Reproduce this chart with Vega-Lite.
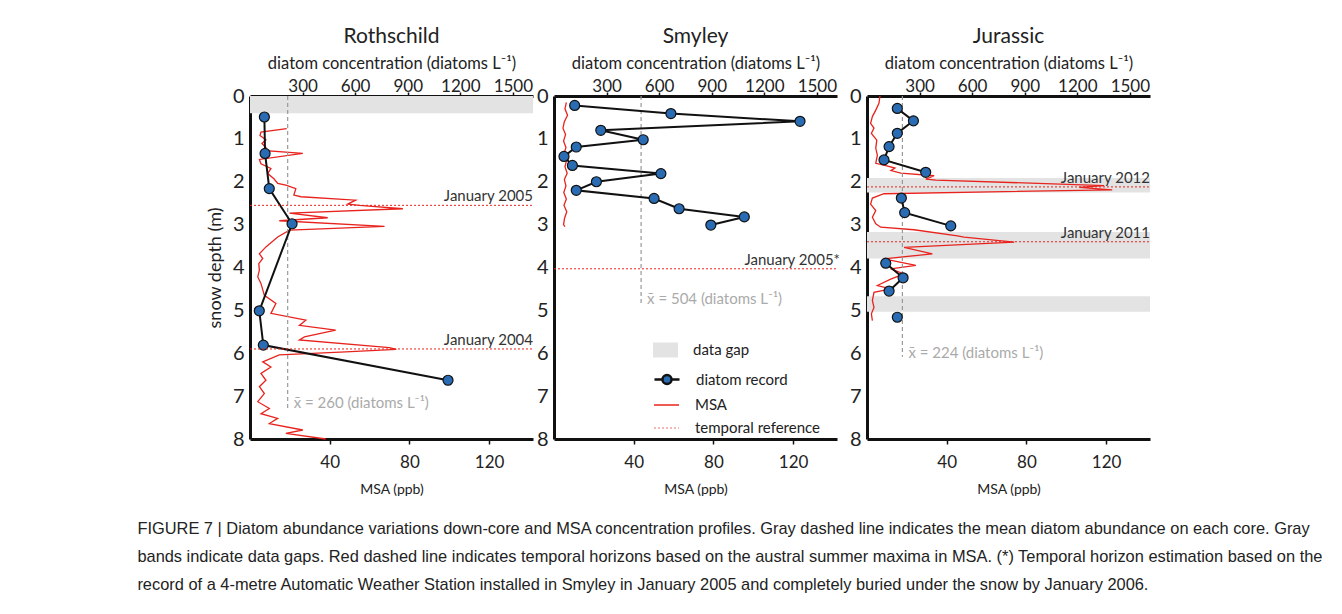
{
  "$schema": "https://vega.github.io/schema/vega-lite/v6.json",
  "padding": {"left": 137, "top": 26, "right": 0, "bottom": 0},
  "background": "white",
  "title": {
    "text": ["FIGURE 7 | Diatom abundance variations down-core and MSA concentration profiles. Gray dashed line indicates the mean diatom abundance on each core. Gray", "bands indicate data gaps. Red dashed line indicates temporal horizons based on the austral summer maxima in MSA. (*) Temporal horizon estimation based on the", "record of a 4-metre Automatic Weather Station installed in Smyley in January 2005 and completely buried under the snow by January 2006."],
    "orient": "bottom", "anchor": "start", "frame": "bounds", "dx": -69, "offset": 25,
    "font": "Liberation Sans", "fontSize": 16.4, "fontWeight": "normal", "color": "#222", "lineHeight": 28
  },
  "config": {
    "font": "Lato",
    "view": {"stroke": null},
    "axis": {"domainColor": "#111", "domainWidth": 3, "tickColor": "#111", "tickWidth": 1.5, "tickSize": 5, "labelFont": "Lato", "labelColor": "#222", "titleFont": "Lato", "titleFontWeight": "normal", "titleColor": "#222", "grid": false},
    "legend": {"labelFont": "Lato", "labelFontSize": 15, "labelColor": "#222", "padding": 0, "labelOffset": 15}
  },
  "resolve": {"scale": {"fill": "independent", "strokeDash": "independent", "stroke": "independent"}},
  "datasets": {
    "diatom": [
      {"core": "Rothschild", "seg": "a", "depth": 0.49, "conc": 82},
      {"core": "Rothschild", "seg": "a", "depth": 1.34, "conc": 86},
      {"core": "Rothschild", "seg": "a", "depth": 2.16, "conc": 110},
      {"core": "Rothschild", "seg": "a", "depth": 2.98, "conc": 240},
      {"core": "Rothschild", "seg": "a", "depth": 5.01, "conc": 53},
      {"core": "Rothschild", "seg": "a", "depth": 5.81, "conc": 76},
      {"core": "Rothschild", "seg": "a", "depth": 6.63, "conc": 1130},
      {"core": "Smyley", "seg": "a", "depth": 0.22, "conc": 118},
      {"core": "Smyley", "seg": "a", "depth": 0.41, "conc": 667},
      {"core": "Smyley", "seg": "a", "depth": 0.59, "conc": 1404},
      {"core": "Smyley", "seg": "a", "depth": 0.8, "conc": 267},
      {"core": "Smyley", "seg": "a", "depth": 1.02, "conc": 509},
      {"core": "Smyley", "seg": "a", "depth": 1.19, "conc": 127},
      {"core": "Smyley", "seg": "a", "depth": 1.41, "conc": 57},
      {"core": "Smyley", "seg": "a", "depth": 1.62, "conc": 105},
      {"core": "Smyley", "seg": "a", "depth": 1.81, "conc": 610},
      {"core": "Smyley", "seg": "a", "depth": 2.0, "conc": 242},
      {"core": "Smyley", "seg": "a", "depth": 2.2, "conc": 127},
      {"core": "Smyley", "seg": "a", "depth": 2.39, "conc": 571},
      {"core": "Smyley", "seg": "a", "depth": 2.63, "conc": 714},
      {"core": "Smyley", "seg": "a", "depth": 2.82, "conc": 1086},
      {"core": "Smyley", "seg": "a", "depth": 3.01, "conc": 895},
      {"core": "Jurassic", "seg": "a", "depth": 0.29, "conc": 173},
      {"core": "Jurassic", "seg": "a", "depth": 0.58, "conc": 265},
      {"core": "Jurassic", "seg": "a", "depth": 0.87, "conc": 173},
      {"core": "Jurassic", "seg": "a", "depth": 1.18, "conc": 126},
      {"core": "Jurassic", "seg": "a", "depth": 1.49, "conc": 97},
      {"core": "Jurassic", "seg": "a", "depth": 1.78, "conc": 335},
      {"core": "Jurassic", "seg": "b", "depth": 2.38, "conc": 196},
      {"core": "Jurassic", "seg": "b", "depth": 2.72, "conc": 215},
      {"core": "Jurassic", "seg": "b", "depth": 3.03, "conc": 478},
      {"core": "Jurassic", "seg": "c", "depth": 3.9, "conc": 107},
      {"core": "Jurassic", "seg": "c", "depth": 4.24, "conc": 206},
      {"core": "Jurassic", "seg": "c", "depth": 4.55, "conc": 126},
      {"core": "Jurassic", "seg": "d", "depth": 5.16, "conc": 173}
    ],
    "msa": [
      {"core": "Rothschild", "depth": 0.76, "msa": 18.4},
      {"core": "Rothschild", "depth": 0.84, "msa": 5.5},
      {"core": "Rothschild", "depth": 0.92, "msa": 5.0},
      {"core": "Rothschild", "depth": 1.02, "msa": 8},
      {"core": "Rothschild", "depth": 1.11, "msa": 6},
      {"core": "Rothschild", "depth": 1.2, "msa": 8},
      {"core": "Rothschild", "depth": 1.27, "msa": 6.4},
      {"core": "Rothschild", "depth": 1.34, "msa": 26.5},
      {"core": "Rothschild", "depth": 1.48, "msa": 4.7},
      {"core": "Rothschild", "depth": 1.58, "msa": 5.5},
      {"core": "Rothschild", "depth": 1.69, "msa": 10.5},
      {"core": "Rothschild", "depth": 1.81, "msa": 8.9},
      {"core": "Rothschild", "depth": 1.93, "msa": 12},
      {"core": "Rothschild", "depth": 2.04, "msa": 13.9},
      {"core": "Rothschild", "depth": 2.08, "msa": 18},
      {"core": "Rothschild", "depth": 2.16, "msa": 23},
      {"core": "Rothschild", "depth": 2.31, "msa": 22},
      {"core": "Rothschild", "depth": 2.35, "msa": 25.6},
      {"core": "Rothschild", "depth": 2.43, "msa": 53},
      {"core": "Rothschild", "depth": 2.52, "msa": 49},
      {"core": "Rothschild", "depth": 2.55, "msa": 55},
      {"core": "Rothschild", "depth": 2.63, "msa": 76.7},
      {"core": "Rothschild", "depth": 2.73, "msa": 19.8},
      {"core": "Rothschild", "depth": 2.84, "msa": 39},
      {"core": "Rothschild", "depth": 2.91, "msa": 14.7},
      {"core": "Rothschild", "depth": 3.04, "msa": 67.5},
      {"core": "Rothschild", "depth": 3.13, "msa": 19.8},
      {"core": "Rothschild", "depth": 3.29, "msa": 13.9},
      {"core": "Rothschild", "depth": 3.52, "msa": 8},
      {"core": "Rothschild", "depth": 3.68, "msa": 4.7},
      {"core": "Rothschild", "depth": 3.79, "msa": 6.4},
      {"core": "Rothschild", "depth": 3.91, "msa": 4.4},
      {"core": "Rothschild", "depth": 4.06, "msa": 4.7},
      {"core": "Rothschild", "depth": 4.22, "msa": 3.9},
      {"core": "Rothschild", "depth": 4.37, "msa": 5.5},
      {"core": "Rothschild", "depth": 4.65, "msa": 7.2},
      {"core": "Rothschild", "depth": 4.84, "msa": 13},
      {"core": "Rothschild", "depth": 5.07, "msa": 10.5},
      {"core": "Rothschild", "depth": 5.23, "msa": 28},
      {"core": "Rothschild", "depth": 5.35, "msa": 24.8},
      {"core": "Rothschild", "depth": 5.46, "msa": 43},
      {"core": "Rothschild", "depth": 5.62, "msa": 27.3},
      {"core": "Rothschild", "depth": 5.69, "msa": 24.8},
      {"core": "Rothschild", "depth": 5.87, "msa": 70},
      {"core": "Rothschild", "depth": 5.91, "msa": 73.4},
      {"core": "Rothschild", "depth": 5.97, "msa": 48},
      {"core": "Rothschild", "depth": 6.04, "msa": 14.7},
      {"core": "Rothschild", "depth": 6.2, "msa": 6.4},
      {"core": "Rothschild", "depth": 6.32, "msa": 10.5},
      {"core": "Rothschild", "depth": 6.47, "msa": 5.5},
      {"core": "Rothschild", "depth": 6.63, "msa": 8},
      {"core": "Rothschild", "depth": 6.78, "msa": 4.7},
      {"core": "Rothschild", "depth": 6.94, "msa": 7.2},
      {"core": "Rothschild", "depth": 7.13, "msa": 3.9},
      {"core": "Rothschild", "depth": 7.29, "msa": 9.7},
      {"core": "Rothschild", "depth": 7.41, "msa": 5.5},
      {"core": "Rothschild", "depth": 7.52, "msa": 13.9},
      {"core": "Rothschild", "depth": 7.64, "msa": 9.7},
      {"core": "Rothschild", "depth": 7.79, "msa": 26.5},
      {"core": "Rothschild", "depth": 7.87, "msa": 18},
      {"core": "Rothschild", "depth": 8.0, "msa": 38},
      {"core": "Smyley", "depth": 0.15, "msa": 6.2},
      {"core": "Smyley", "depth": 0.3, "msa": 5.5},
      {"core": "Smyley", "depth": 0.45, "msa": 6.8},
      {"core": "Smyley", "depth": 0.6, "msa": 5.2},
      {"core": "Smyley", "depth": 0.75, "msa": 4.5},
      {"core": "Smyley", "depth": 0.9, "msa": 5.8},
      {"core": "Smyley", "depth": 1.05, "msa": 4.8},
      {"core": "Smyley", "depth": 1.2, "msa": 6.0},
      {"core": "Smyley", "depth": 1.35, "msa": 5.0},
      {"core": "Smyley", "depth": 1.5, "msa": 6.3},
      {"core": "Smyley", "depth": 1.65, "msa": 5.5},
      {"core": "Smyley", "depth": 1.8, "msa": 6.6},
      {"core": "Smyley", "depth": 1.95, "msa": 5.2},
      {"core": "Smyley", "depth": 2.1, "msa": 6.0},
      {"core": "Smyley", "depth": 2.25, "msa": 4.9},
      {"core": "Smyley", "depth": 2.4, "msa": 6.2},
      {"core": "Smyley", "depth": 2.55, "msa": 5.0},
      {"core": "Smyley", "depth": 2.7, "msa": 6.4},
      {"core": "Smyley", "depth": 2.85, "msa": 5.3},
      {"core": "Smyley", "depth": 3.0, "msa": 4.8},
      {"core": "Smyley", "depth": 3.05, "msa": 5.5},
      {"core": "Jurassic", "depth": 0.0, "msa": 6.5},
      {"core": "Jurassic", "depth": 0.17, "msa": 6},
      {"core": "Jurassic", "depth": 0.33, "msa": 4.4},
      {"core": "Jurassic", "depth": 0.48, "msa": 2.7},
      {"core": "Jurassic", "depth": 0.64, "msa": 1.8},
      {"core": "Jurassic", "depth": 0.75, "msa": 3.5},
      {"core": "Jurassic", "depth": 0.87, "msa": 2.2},
      {"core": "Jurassic", "depth": 1.03, "msa": 4.9},
      {"core": "Jurassic", "depth": 1.22, "msa": 4.4},
      {"core": "Jurassic", "depth": 1.38, "msa": 5.2},
      {"core": "Jurassic", "depth": 1.57, "msa": 4.4},
      {"core": "Jurassic", "depth": 1.62, "msa": 9},
      {"core": "Jurassic", "depth": 1.68, "msa": 14},
      {"core": "Jurassic", "depth": 1.74, "msa": 12},
      {"core": "Jurassic", "depth": 1.8, "msa": 17},
      {"core": "Jurassic", "depth": 1.86, "msa": 33.7},
      {"core": "Jurassic", "depth": 1.94, "msa": 29.5},
      {"core": "Jurassic", "depth": 1.96, "msa": 34.5},
      {"core": "Jurassic", "depth": 2.09, "msa": 119},
      {"core": "Jurassic", "depth": 2.13, "msa": 106.5},
      {"core": "Jurassic", "depth": 2.19, "msa": 123},
      {"core": "Jurassic", "depth": 2.23, "msa": 69},
      {"core": "Jurassic", "depth": 2.28, "msa": 8.5},
      {"core": "Jurassic", "depth": 2.38, "msa": 2.7},
      {"core": "Jurassic", "depth": 2.52, "msa": 1.8},
      {"core": "Jurassic", "depth": 2.67, "msa": 4.4},
      {"core": "Jurassic", "depth": 2.83, "msa": 2.7},
      {"core": "Jurassic", "depth": 2.98, "msa": 4.4},
      {"core": "Jurassic", "depth": 3.06, "msa": 6.9},
      {"core": "Jurassic", "depth": 3.12, "msa": 23.6},
      {"core": "Jurassic", "depth": 3.26, "msa": 45.4},
      {"core": "Jurassic", "depth": 3.29, "msa": 48.7},
      {"core": "Jurassic", "depth": 3.41, "msa": 73.9},
      {"core": "Jurassic", "depth": 3.53, "msa": 18.6},
      {"core": "Jurassic", "depth": 3.68, "msa": 32.8},
      {"core": "Jurassic", "depth": 3.8, "msa": 8.5},
      {"core": "Jurassic", "depth": 3.95, "msa": 24.5},
      {"core": "Jurassic", "depth": 4.03, "msa": 11.9},
      {"core": "Jurassic", "depth": 4.15, "msa": 18.6},
      {"core": "Jurassic", "depth": 4.27, "msa": 11.9},
      {"core": "Jurassic", "depth": 4.42, "msa": 5.2},
      {"core": "Jurassic", "depth": 4.5, "msa": 11.9},
      {"core": "Jurassic", "depth": 4.58, "msa": 3.5},
      {"core": "Jurassic", "depth": 4.77, "msa": 2.7},
      {"core": "Jurassic", "depth": 4.93, "msa": 3.5},
      {"core": "Jurassic", "depth": 5.08, "msa": 2.2},
      {"core": "Jurassic", "depth": 5.24, "msa": 2.7}
    ],
    "gaps": [
      {"core": "Rothschild", "top": 0, "bottom": 0.4},
      {"core": "Jurassic", "top": 1.91, "bottom": 2.25},
      {"core": "Jurassic", "top": 3.17, "bottom": 3.79},
      {"core": "Jurassic", "top": 4.67, "bottom": 5.03}
    ],
    "refs": [
      {"core": "Rothschild", "depth": 2.55, "label": "January 2005"},
      {"core": "Rothschild", "depth": 5.9, "label": "January 2004"},
      {"core": "Smyley", "depth": 4.03, "label": "January 2005*"},
      {"core": "Jurassic", "depth": 2.12, "label": "January 2012"},
      {"core": "Jurassic", "depth": 3.4, "label": "January 2011"}
    ],
    "meanline": [
      {"core": "Rothschild", "mean": 215, "depth": 0},
      {"core": "Rothschild", "mean": 215, "depth": 7.3},
      {"core": "Smyley", "mean": 497, "depth": 0},
      {"core": "Smyley", "mean": 497, "depth": 4.87},
      {"core": "Jurassic", "mean": 202, "depth": 0},
      {"core": "Jurassic", "mean": 202, "depth": 6.08}
    ],
    "means": [
      {"core": "Rothschild", "mean": 215, "end": 7.3, "label": "x\u0304 = 260 (diatoms L\u207b\u00b9)"},
      {"core": "Smyley", "mean": 497, "end": 4.87, "label": "x\u0304 = 504 (diatoms L\u207b\u00b9)"},
      {"core": "Jurassic", "mean": 202, "end": 6.08, "label": "x\u0304 = 224 (diatoms L\u207b\u00b9)"}
    ]
  },
  "hconcat": [
    {
      "width": 283, "height": 343,
      "title": {"text": "Rothschild", "font": "Lato", "fontSize": 21, "fontWeight": "normal", "color": "#222", "offset": 8},
      "layer": [
        {"data": {"name": "gaps"}, "transform": [{"filter": "datum.core === 'Rothschild'"}],
         "mark": {"type": "rect", "color": "#e3e3e3", "x": 0, "x2": "width"},
         "encoding": {
           "y": {"field": "top", "type": "quantitative", "title": "snow depth (m)", "scale": {"domain": [0, 8], "reverse": true, "nice": false}, "axis": {"values": [0,1,2,3,4,5,6,7,8], "ticks": false, "labelPadding": 6, "labelFontSize": 20, "titleFontSize": 18, "titlePadding": 8}},
           "y2": {"field": "bottom"}}},
        {"data": {"name": "msa"}, "transform": [{"filter": "datum.core === 'Rothschild'"}],
         "mark": {"type": "line", "color": "#e8231e", "strokeWidth": 1.3},
         "encoding": {
           "x": {"field": "msa", "type": "quantitative", "title": "MSA (ppb)", "scale": {"domain": [0, 142], "nice": false}, "axis": {"orient": "bottom", "values": [40, 80, 120], "labelFontSize": 17, "titleFontSize": 14, "labelPadding": 10, "titlePadding": 12}},
           "y": {"field": "depth", "type": "quantitative", "title": "snow depth (m)"},
           "order": {"field": "depth", "type": "quantitative"}}},
        {"data": {"name": "meanline"}, "transform": [{"filter": "datum.core === 'Rothschild'"}],
         "mark": {"type": "line", "color": "#999", "strokeDash": [4, 3], "strokeWidth": 1.2},
         "encoding": {
           "x": {"field": "mean", "type": "quantitative", "title": "diatom concentration (diatoms L\u207b\u00b9)", "scale": {"domain": [0, 1615], "nice": false}, "axis": {"orient": "top", "values": [300, 600, 900, 1200, 1500], "format": "d", "tickSize": 4, "labelFontSize": 17, "titleFontSize": 16.5, "labelPadding": -3, "titlePadding": 6}},
           "y": {"field": "depth", "type": "quantitative", "title": "snow depth (m)"},
           "order": {"field": "depth", "type": "quantitative"}}},
        {"data": {"name": "means"}, "transform": [{"filter": "datum.core === 'Rothschild'"}],
         "mark": {"type": "text", "align": "left", "baseline": "middle", "dx": 6, "dy": -6, "fontSize": 15, "color": "#aaa"},
         "encoding": {
           "x": {"field": "mean", "type": "quantitative", "scale": {"domain": [0, 1615], "nice": false}, "axis": null},
           "y": {"field": "end", "type": "quantitative", "title": "snow depth (m)"},
           "text": {"field": "label", "type": "nominal"}}},
        {"data": {"name": "diatom"}, "transform": [{"filter": "datum.core === 'Rothschild'"}],
         "mark": {"type": "line", "color": "#111", "strokeWidth": 2},
         "encoding": {
           "x": {"field": "conc", "type": "quantitative", "scale": {"domain": [0, 1615], "nice": false}, "axis": null},
           "y": {"field": "depth", "type": "quantitative", "title": "snow depth (m)"},
           "detail": {"field": "seg", "type": "nominal"},
           "order": {"field": "depth", "type": "quantitative"}}},
        {"data": {"name": "diatom"}, "transform": [{"filter": "datum.core === 'Rothschild'"}],
         "mark": {"type": "point", "filled": true, "fill": "#2a6cb3", "stroke": "#111", "strokeWidth": 1.2, "size": 100, "opacity": 1},
         "encoding": {
           "x": {"field": "conc", "type": "quantitative", "scale": {"domain": [0, 1615], "nice": false}, "axis": null},
           "y": {"field": "depth", "type": "quantitative", "title": "snow depth (m)"}}},
        {"data": {"name": "refs"}, "transform": [{"filter": "datum.core === 'Rothschild'"}],
         "mark": {"type": "rule", "color": "#e8231e", "strokeDash": [2, 2], "strokeWidth": 1, "x": 0, "x2": "width"},
         "encoding": {"y": {"field": "depth", "type": "quantitative", "title": "snow depth (m)"}}},
        {"data": {"name": "refs"}, "transform": [{"filter": "datum.core === 'Rothschild'"}],
         "mark": {"type": "text", "align": "right", "baseline": "bottom", "dy": -1, "fontSize": 15, "color": "#333", "x": "width"},
         "encoding": {"y": {"field": "depth", "type": "quantitative", "title": "snow depth (m)"}, "text": {"field": "label", "type": "nominal"}}}
      ],
      "resolve": {"scale": {"x": "independent"}}
    },
    {
      "width": 283, "height": 343,
      "title": {"text": "Smyley", "font": "Lato", "fontSize": 21, "fontWeight": "normal", "color": "#222", "offset": 8},
      "layer": [
        {"data": {"name": "gaps"}, "transform": [{"filter": "datum.core === 'Smyley'"}],
         "mark": {"type": "rect", "x": 0, "x2": "width"},
         "encoding": {
           "y": {"field": "top", "type": "quantitative", "title": null, "scale": {"domain": [0, 8], "reverse": true, "nice": false}, "axis": {"values": [0,1,2,3,4,5,6,7,8], "ticks": false, "labelPadding": 6, "labelFontSize": 20}},
           "y2": {"field": "bottom"},
           "fill": {"field": "core", "type": "nominal", "scale": {"domain": ["Smyley"], "range": ["#e3e3e3"]}, "legend": {"orient": "none", "legendX": 99, "legendY": 241.5, "title": null, "labelExpr": "'data gap'", "symbolType": "M-1,-0.6H1V0.6H-1Z", "symbolSize": 625, "symbolStrokeWidth": 0, "symbolOpacity": 1}}}},
        {"data": {"name": "msa"}, "transform": [{"filter": "datum.core === 'Smyley'"}],
         "mark": {"type": "line", "strokeWidth": 1.3},
         "encoding": {
           "x": {"field": "msa", "type": "quantitative", "title": "MSA (ppb)", "scale": {"domain": [0, 142], "nice": false}, "axis": {"orient": "bottom", "values": [40, 80, 120], "labelFontSize": 17, "titleFontSize": 14, "labelPadding": 10, "titlePadding": 12}},
           "y": {"field": "depth", "type": "quantitative", "title": null},
           "order": {"field": "depth", "type": "quantitative"},
           "stroke": {"field": "core", "type": "nominal", "scale": {"domain": ["Smyley"], "range": ["#e8231e"]}, "legend": {"orient": "none", "legendX": 99, "legendY": 295.5, "title": null, "labelExpr": "'MSA'", "symbolType": "stroke", "symbolSize": 625, "symbolStrokeWidth": 1.5}}}},
        {"data": {"name": "meanline"}, "transform": [{"filter": "datum.core === 'Smyley'"}],
         "mark": {"type": "line", "color": "#999", "strokeDash": [4, 3], "strokeWidth": 1.2},
         "encoding": {
           "x": {"field": "mean", "type": "quantitative", "title": "diatom concentration (diatoms L\u207b\u00b9)", "scale": {"domain": [0, 1615], "nice": false}, "axis": {"orient": "top", "values": [300, 600, 900, 1200, 1500], "format": "d", "tickSize": 4, "labelFontSize": 17, "titleFontSize": 16.5, "labelPadding": -3, "titlePadding": 6}},
           "y": {"field": "depth", "type": "quantitative", "title": null},
           "order": {"field": "depth", "type": "quantitative"}}},
        {"data": {"name": "means"}, "transform": [{"filter": "datum.core === 'Smyley'"}],
         "mark": {"type": "text", "align": "left", "baseline": "middle", "dx": 6, "dy": -6, "fontSize": 15, "color": "#aaa"},
         "encoding": {
           "x": {"field": "mean", "type": "quantitative", "scale": {"domain": [0, 1615], "nice": false}, "axis": null},
           "y": {"field": "end", "type": "quantitative", "title": null},
           "text": {"field": "label", "type": "nominal"}}},
        {"data": {"name": "diatom"}, "transform": [{"filter": "datum.core === 'Smyley'"}],
         "mark": {"type": "line", "strokeWidth": 2},
         "encoding": {
           "x": {"field": "conc", "type": "quantitative", "scale": {"domain": [0, 1615], "nice": false}, "axis": null},
           "y": {"field": "depth", "type": "quantitative", "title": null},
           "detail": {"field": "seg", "type": "nominal"},
           "order": {"field": "depth", "type": "quantitative"},
           "stroke": {"field": "core", "type": "nominal", "scale": {"domain": ["Smyley"], "range": ["#111"]}, "legend": {"orient": "none", "legendX": 99, "legendY": 269.5, "title": null, "labelExpr": "'diatom record'", "symbolType": "M-1,0H-0.36M0.36,0H1M0.36,0A0.36,0.36,0,1,1,-0.36,0A0.36,0.36,0,1,1,0.36,0Z", "symbolSize": 625, "symbolStrokeWidth": 2.5, "symbolFillColor": "#2a6cb3"}}}},
        {"data": {"name": "diatom"}, "transform": [{"filter": "datum.core === 'Smyley'"}],
         "mark": {"type": "point", "filled": true, "fill": "#2a6cb3", "stroke": "#111", "strokeWidth": 1.2, "size": 100, "opacity": 1},
         "encoding": {
           "x": {"field": "conc", "type": "quantitative", "scale": {"domain": [0, 1615], "nice": false}, "axis": null},
           "y": {"field": "depth", "type": "quantitative", "title": null}}},
        {"data": {"name": "refs"}, "transform": [{"filter": "datum.core === 'Smyley'"}],
         "mark": {"type": "rule", "color": "#e8231e", "strokeWidth": 1, "x": 0, "x2": "width"},
         "encoding": {
           "y": {"field": "depth", "type": "quantitative", "title": null},
           "strokeDash": {"field": "label", "type": "nominal", "scale": {"domain": ["January 2005*"], "range": [[2, 2]]}, "legend": {"orient": "none", "legendX": 99, "legendY": 318.5, "title": null, "labelExpr": "'temporal reference'", "symbolType": "stroke", "symbolSize": 625, "symbolStrokeWidth": 1.2, "symbolStrokeColor": "#f07070"}}}},
        {"data": {"name": "refs"}, "transform": [{"filter": "datum.core === 'Smyley'"}],
         "mark": {"type": "text", "align": "right", "baseline": "bottom", "dy": -1, "dx": 3, "fontSize": 15, "color": "#333", "x": "width"},
         "encoding": {"y": {"field": "depth", "type": "quantitative", "title": null}, "text": {"field": "label", "type": "nominal"}}}
      ],
      "resolve": {"scale": {"x": "independent", "stroke": "independent"}}
    },
    {
      "width": 283, "height": 343,
      "title": {"text": "Jurassic", "font": "Lato", "fontSize": 21, "fontWeight": "normal", "color": "#222", "offset": 8},
      "layer": [
        {"data": {"name": "gaps"}, "transform": [{"filter": "datum.core === 'Jurassic'"}],
         "mark": {"type": "rect", "color": "#e3e3e3", "x": 0, "x2": "width"},
         "encoding": {
           "y": {"field": "top", "type": "quantitative", "title": null, "scale": {"domain": [0, 8], "reverse": true, "nice": false}, "axis": {"values": [0,1,2,3,4,5,6,7,8], "ticks": false, "labelPadding": 6, "labelFontSize": 20, "minExtent": 25}},
           "y2": {"field": "bottom"}}},
        {"data": {"name": "msa"}, "transform": [{"filter": "datum.core === 'Jurassic'"}],
         "mark": {"type": "line", "color": "#e8231e", "strokeWidth": 1.3},
         "encoding": {
           "x": {"field": "msa", "type": "quantitative", "title": "MSA (ppb)", "scale": {"domain": [0, 142], "nice": false}, "axis": {"orient": "bottom", "values": [40, 80, 120], "labelFontSize": 17, "titleFontSize": 14, "labelPadding": 10, "titlePadding": 12}},
           "y": {"field": "depth", "type": "quantitative", "title": null},
           "order": {"field": "depth", "type": "quantitative"}}},
        {"data": {"name": "meanline"}, "transform": [{"filter": "datum.core === 'Jurassic'"}],
         "mark": {"type": "line", "color": "#999", "strokeDash": [4, 3], "strokeWidth": 1.2},
         "encoding": {
           "x": {"field": "mean", "type": "quantitative", "title": "diatom concentration (diatoms L\u207b\u00b9)", "scale": {"domain": [0, 1615], "nice": false}, "axis": {"orient": "top", "values": [300, 600, 900, 1200, 1500], "format": "d", "tickSize": 4, "labelFontSize": 17, "titleFontSize": 16.5, "labelPadding": -3, "titlePadding": 6}},
           "y": {"field": "depth", "type": "quantitative", "title": null},
           "order": {"field": "depth", "type": "quantitative"}}},
        {"data": {"name": "means"}, "transform": [{"filter": "datum.core === 'Jurassic'"}],
         "mark": {"type": "text", "align": "left", "baseline": "middle", "dx": 6, "dy": -4, "fontSize": 15, "color": "#aaa"},
         "encoding": {
           "x": {"field": "mean", "type": "quantitative", "scale": {"domain": [0, 1615], "nice": false}, "axis": null},
           "y": {"field": "end", "type": "quantitative", "title": null},
           "text": {"field": "label", "type": "nominal"}}},
        {"data": {"name": "diatom"}, "transform": [{"filter": "datum.core === 'Jurassic'"}],
         "mark": {"type": "line", "color": "#111", "strokeWidth": 2},
         "encoding": {
           "x": {"field": "conc", "type": "quantitative", "scale": {"domain": [0, 1615], "nice": false}, "axis": null},
           "y": {"field": "depth", "type": "quantitative", "title": null},
           "detail": {"field": "seg", "type": "nominal"},
           "order": {"field": "depth", "type": "quantitative"}}},
        {"data": {"name": "diatom"}, "transform": [{"filter": "datum.core === 'Jurassic'"}],
         "mark": {"type": "point", "filled": true, "fill": "#2a6cb3", "stroke": "#111", "strokeWidth": 1.2, "size": 100, "opacity": 1},
         "encoding": {
           "x": {"field": "conc", "type": "quantitative", "scale": {"domain": [0, 1615], "nice": false}, "axis": null},
           "y": {"field": "depth", "type": "quantitative", "title": null}}},
        {"data": {"name": "refs"}, "transform": [{"filter": "datum.core === 'Jurassic'"}],
         "mark": {"type": "rule", "color": "#e8231e", "strokeDash": [2, 2], "strokeWidth": 1, "x": 0, "x2": "width"},
         "encoding": {"y": {"field": "depth", "type": "quantitative", "title": null}}},
        {"data": {"name": "refs"}, "transform": [{"filter": "datum.core === 'Jurassic'"}],
         "mark": {"type": "text", "align": "right", "baseline": "bottom", "dy": -1, "fontSize": 15, "color": "#333", "x": "width"},
         "encoding": {"y": {"field": "depth", "type": "quantitative", "title": null}, "text": {"field": "label", "type": "nominal"}}}
      ],
      "resolve": {"scale": {"x": "independent"}}
    }
  ],
  "spacing": 2
}
